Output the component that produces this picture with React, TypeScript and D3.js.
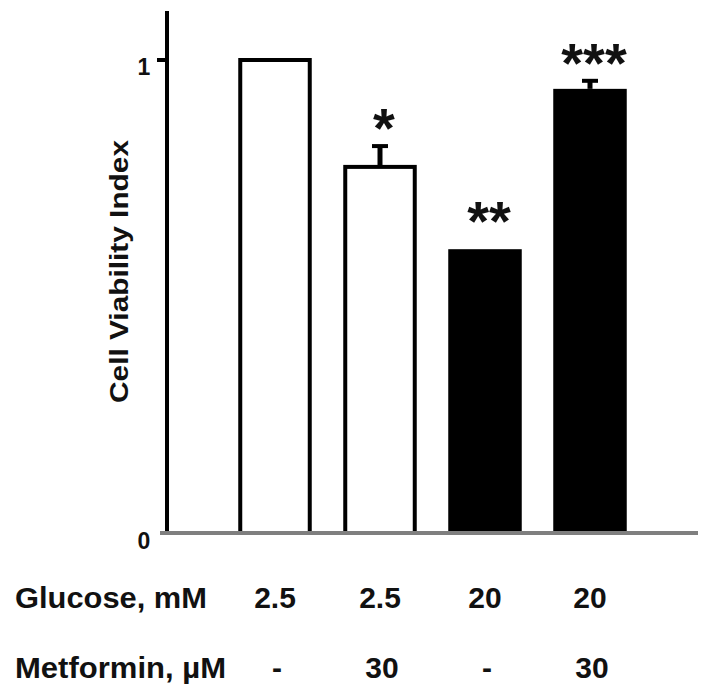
import React, { useEffect } from "react";
import * as d3 from "d3";

const conditions = ["c1", "c2", "c3", "c4"];
const glucose = ["2.5", "2.5", "20", "20"];
const metformin = ["-", "30", "-", "30"];
const viability = [1.0, 0.774, 0.6, 0.939];
const sem = [0, 0.044, 0, 0.017];
const significance = ["", "*", "**", "***"];
const yTicks = [0, 1];

const W = 709;
const H = 696;
const FONT = "'Liberation Sans', Arial, Helvetica, sans-serif";

export default function App() {
  useEffect(() => {
    document.body.style.margin = "0";
  }, []);

  const x = d3
    .scaleBand<string>()
    .domain(conditions)
    .range([222.5, 642.5])
    .paddingInner(0.3)
    .paddingOuter(0.15);
  const y = d3.scaleLinear().domain([0, 1.1]).range([533, 12.7]);
  const bw = x.bandwidth();
  const axisX = 167;
  const isHigh = (g: string) => +g >= 20;

  return (
    <svg
      width={W}
      height={H}
      style={{ position: "absolute", left: 0, top: 0, background: "#fff" }}
      fontFamily={FONT}
    >
      {/* bars */}
      {conditions.map((c, i) => {
        const x0 = x(c)!;
        const top = y(viability[i]);
        const high = isHigh(glucose[i]);
        return high ? (
          <rect key={c} x={x0} y={top} width={bw} height={y(0) - top} fill="#000" />
        ) : (
          <rect
            key={c}
            x={x0 + 2}
            y={top}
            width={bw - 4}
            height={y(0) - top}
            fill="#fff"
            stroke="#000"
            strokeWidth={4}
          />
        );
      })}
      {/* error bars */}
      {conditions.map((c, i) => {
        if (!sem[i]) return null;
        const cx = x(c)! + bw / 2;
        const top = y(viability[i]);
        const et = y(viability[i] + sem[i]);
        return (
          <g key={"e" + c}>
            <line x1={cx} x2={cx} y1={top} y2={et} stroke="#000" strokeWidth={5} />
            <line x1={cx - 8} x2={cx + 8} y1={et} y2={et} stroke="#000" strokeWidth={4} />
          </g>
        );
      })}
      {/* significance stars */}
      {conditions.map((c, i) => {
        if (!significance[i]) return null;
        const cx = x(c)! + bw / 2 + 4;
        const et = y(viability[i] + sem[i]);
        const cy = et - (sem[i] ? 31 : 41);
        return (
          <text
            key={"s" + c}
            x={cx}
            y={cy + 32}
            textAnchor="middle"
            fontSize={56}
            fontWeight="bold"
            fill="#111"
          >
            {significance[i]}
          </text>
        );
      })}
      {/* y axis */}
      <line x1={axisX} x2={axisX} y1={11} y2={y(0)} stroke="#000" strokeWidth={4} />
      {yTicks.map((t) => (
        <g key={"t" + t}>
          {t > 0 && (
            <line x1={axisX - 10} x2={axisX} y1={y(t)} y2={y(t)} stroke="#000" strokeWidth={4} />
          )}
          <text
            x={144}
            y={y(t) + (t > 0 ? 15 : 16)}
            textAnchor="middle"
            fontSize={23}
            fontWeight="bold"
            fill="#111"
          >
            {t}
          </text>
        </g>
      ))}
      {/* baseline */}
      <line x1={160} x2={698} y1={y(0)} y2={y(0)} stroke="#7f7f7f" strokeWidth={4} />
      {/* y label */}
      <text
        transform={`translate(128, 271.5) rotate(-90)`}
        textAnchor="middle"
        fontSize={25}
        fontWeight="bold"
        fill="#111"
        textLength={263}
        lengthAdjust="spacingAndGlyphs"
      >
        Cell Viability Index
      </text>
      {/* condition rows */}
      <text x={15} y={608} fontSize={29} fontWeight="bold" fill="#111" textLength={192} lengthAdjust="spacingAndGlyphs">
        Glucose, mM
      </text>
      <text x={15} y={678} fontSize={29} fontWeight="bold" fill="#111" textLength={211} lengthAdjust="spacingAndGlyphs">
        Metformin, µM
      </text>
      {conditions.map((c, i) => (
        <g key={"r" + c}>
          <text x={x(c)! + bw / 2} y={608} textAnchor="middle" fontSize={30} fontWeight="bold" fill="#111">
            {glucose[i]}
          </text>
          <text x={x(c)! + bw / 2 + 2} y={678} textAnchor="middle" fontSize={30} fontWeight="bold" fill="#111">
            {metformin[i]}
          </text>
        </g>
      ))}
    </svg>
  );
}
